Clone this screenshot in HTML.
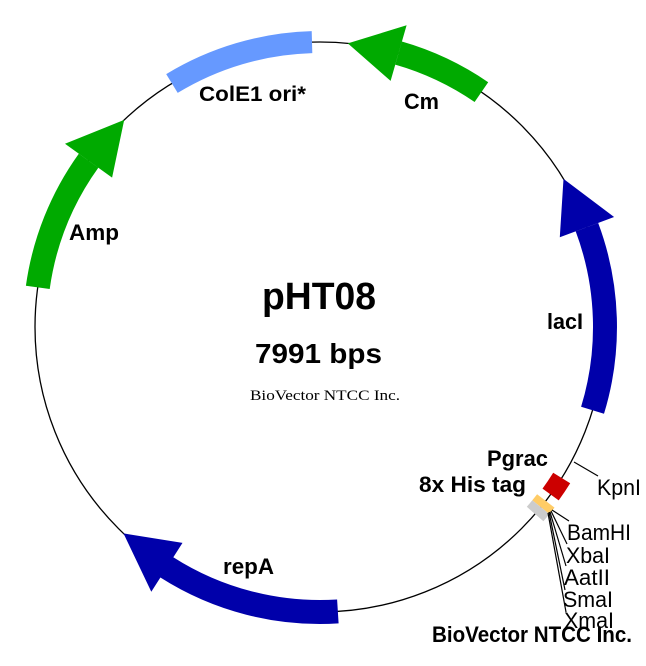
<!DOCTYPE html>
<html><head><meta charset="utf-8"><style>
html,body{margin:0;padding:0;background:#fff;width:646px;height:666px;overflow:hidden}
svg{display:block}
.b{font-family:"Liberation Sans",Arial,sans-serif;font-weight:bold;fill:#000}
.r{font-family:"Liberation Sans",Arial,sans-serif;fill:#000}
</style></head><body>
<svg id="s" width="646" height="666" viewBox="0 0 646 666" xmlns="http://www.w3.org/2000/svg">
<circle cx="320" cy="327" r="285" fill="none" stroke="#000" stroke-width="1.3"/>
<g id="f"></g>
<line x1="574" y1="462" x2="598" y2="476" stroke="#000" stroke-width="1.2"/>
<g stroke="#000" stroke-width="1.2" fill="none">
<line x1="552" y1="510" x2="569" y2="521"/>
<line x1="551" y1="511" x2="567" y2="544"/>
<line x1="550" y1="512" x2="566" y2="566"/>
<line x1="549" y1="512" x2="565" y2="590"/>
<line x1="548" y1="513" x2="566" y2="612"/>
</g>
<g lengthAdjust="spacingAndGlyphs">
<text class="b" x="262" y="309" font-size="38" textLength="114" lengthAdjust="spacingAndGlyphs">pHT08</text>
<text class="b" x="255" y="363" font-size="28" textLength="127" lengthAdjust="spacingAndGlyphs">7991 bps</text>
<text x="250" y="400" font-family="Liberation Serif,serif" font-size="15" textLength="150" lengthAdjust="spacingAndGlyphs">BioVector NTCC Inc.</text>
<text class="b" x="199" y="101" font-size="21" textLength="107" lengthAdjust="spacingAndGlyphs">ColE1 ori*</text>
<text class="b" x="404" y="109" font-size="22" textLength="35" lengthAdjust="spacingAndGlyphs">Cm</text>
<text class="b" x="69" y="240" font-size="22" textLength="50" lengthAdjust="spacingAndGlyphs">Amp</text>
<text class="b" x="547" y="329" font-size="22" textLength="36" lengthAdjust="spacingAndGlyphs">lacI</text>
<text class="b" x="223" y="574" font-size="22" textLength="51" lengthAdjust="spacingAndGlyphs">repA</text>
<text class="b" x="487" y="466" font-size="22" textLength="61" lengthAdjust="spacingAndGlyphs">Pgrac</text>
<text class="b" x="419" y="492" font-size="22" textLength="107" lengthAdjust="spacingAndGlyphs">8x His tag</text>
<text class="r" x="597" y="495" font-size="22" textLength="44" lengthAdjust="spacingAndGlyphs">KpnI</text>
<text class="r" x="567" y="540" font-size="22" textLength="64" lengthAdjust="spacingAndGlyphs">BamHI</text>
<text class="r" x="566" y="563" font-size="22" textLength="44" lengthAdjust="spacingAndGlyphs">XbaI</text>
<text class="r" x="564" y="585" font-size="22" textLength="46" lengthAdjust="spacingAndGlyphs">AatII</text>
<text class="r" x="563" y="607" font-size="22" textLength="50" lengthAdjust="spacingAndGlyphs">SmaI</text>
<text class="r" x="564" y="628" font-size="22" textLength="50" lengthAdjust="spacingAndGlyphs">XmaI</text>
<text class="b" x="432" y="642" font-size="22" textLength="200" lengthAdjust="spacingAndGlyphs">BioVector NTCC Inc.</text>
</g>
</svg>
<script>
var cx=320,cy=327,R=285;
function P(a,r){var t=a*Math.PI/180;return [cx+r*Math.sin(t),cy-r*Math.cos(t)];}
function f(p){return p[0].toFixed(1)+","+p[1].toFixed(1);}
function band(a1,a2,w){var o=R+w,i=R-w;var lg=Math.abs(a2-a1)>180?1:0;
return "M"+f(P(a1,o))+" A"+o+","+o+" 0 "+lg+" 1 "+f(P(a2,o))+" L"+f(P(a2,i))+" A"+i+","+i+" 0 "+lg+" 0 "+f(P(a1,i))+"Z";}
function arrow(tail,base,tip,w,hw){
var d;
if(tip>tail){d=band(tail,base,w);}else{d=band(base,tail,w);}
d+=" M"+f(P(base,R+hw))+" L"+f(P(tip,R))+" L"+f(P(base,R-hw))+"Z";
return d;}
var g=document.getElementById("f"),h="";
h+='<path d="'+band(-31.3,-1.6,11)+'" fill="#6699ff"/>';
h+='<path d="'+arrow(34.5,16,5.6,12,29)+'" fill="#00aa00"/>';
h+='<path d="'+arrow(107,69.5,58.7,12,29)+'" fill="#0000aa"/>';
h+='<path d="'+arrow(-82,-54.3,-43.4,12,29)+'" fill="#00aa00"/>';
h+='<path d="'+arrow(176.4,212.5,223.6,12,29)+'" fill="#0000aa"/>';
h+='<path d="'+band(122,126,10)+'" fill="#cc0000"/>';
h+='<path d="'+band(127.6,129.2,11)+'" fill="#ffcc66"/>';
h+='<path d="'+band(129.2,131,11)+'" fill="#cccccc"/>';
g.innerHTML=h;
</script>
</body></html>
